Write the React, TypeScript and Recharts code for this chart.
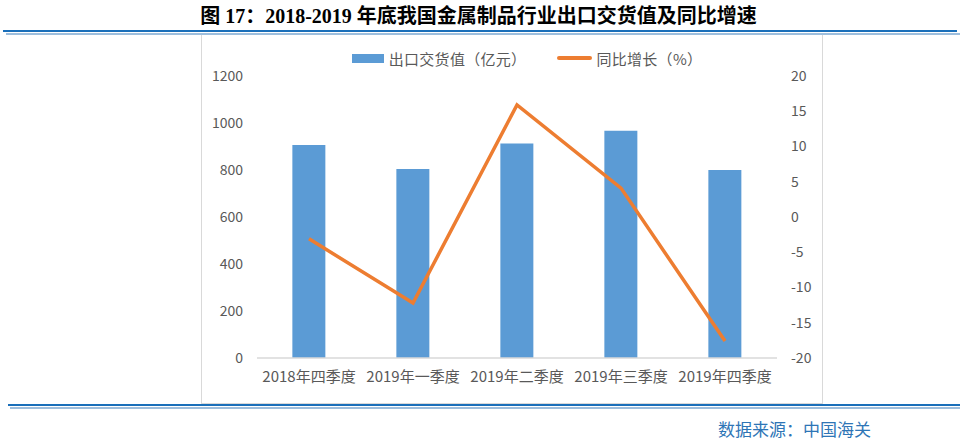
import { ComposedChart, Bar, Line, XAxis, YAxis } from 'recharts';

// 季度
const quarters = ['2018年四季度', '2019年一季度', '2019年二季度', '2019年三季度', '2019年四季度'];
// 出口交货值（亿元）
const exportValue = [906, 804, 913, 967, 800];
// 同比增长（%）
const yoyGrowth = [-3.1, -12.2, 15.9, 4.1, -17.6];

const leftTicks = [0, 200, 400, 600, 800, 1000, 1200];
const rightTicks = [-20, -15, -10, -5, 0, 5, 10, 15, 20];

const barName = '出口交货值（亿元）';
const lineName = '同比增长（%）';

const BLUE = '#5B9BD5';
const ORANGE = '#ED7D31';
const TEXT = '#595959';
const FONT = '"Noto Sans CJK SC", "Noto Sans", sans-serif';

const chartData = quarters.map((q, i) => ({
  quarter: q,
  value: exportValue[i],
  growth: yoyGrowth[i],
}));

function ChartLegend() {
  return (
    <div
      style={{
        display: 'flex',
        justifyContent: 'center',
        alignItems: 'center',
        fontFamily: FONT,
        fontSize: 15,
        color: TEXT,
        height: 20,
        paddingLeft: 30,
        letterSpacing: 0.3,
      }}
    >
      <span style={{ display: 'inline-block', width: 32, height: 9, background: BLUE, marginRight: 5 }} />
      <span style={{ marginRight: 31 }}>{barName}</span>
      <span style={{ display: 'inline-block', width: 35, height: 4, borderRadius: 2, background: ORANGE, marginRight: 4 }} />
      <span>{lineName}</span>
    </div>
  );
}

export default function App() {
  return (
    <div style={{ position: 'absolute', left: 0, top: 0, width: 963, height: 441, background: '#fff', overflow: 'hidden' }}>
      {/* title */}
      <div
        style={{
          position: 'absolute',
          left: -3,
          top: 0,
          width: 963,
          textAlign: 'center',
          fontFamily: '"Liberation Serif", "Noto Sans CJK SC", serif',
          fontWeight: 'bold',
          fontSize: 20,
          color: '#000',
          whiteSpace: 'nowrap',
        }}
      >
        图 17：2018-2019 年底我国金属制品行业出口交货值及同比增速
      </div>
      {/* top rules */}
      <div style={{ position: 'absolute', left: 3, top: 30, width: 954, height: 2, background: '#1A6FBA' }} />
      <div style={{ position: 'absolute', left: 6, top: 33, width: 954, height: 2, background: '#9DBEDD' }} />

      {/* chart frame */}
      <div
        style={{
          position: 'absolute',
          left: 201,
          top: 35,
          width: 620,
          height: 368,
          border: '1px solid #D9D9D9',
          borderTop: 'none',
        }}
      />
      <div style={{ position: 'absolute', left: 202, top: 33 }}>
        <div style={{ position: 'absolute', left: 0, top: 15, width: 620 }}>
          <ChartLegend />
        </div>
        <ComposedChart
          width={620}
          height={370}
          data={chartData}
          margin={{ top: 43, right: 0, bottom: 0, left: 0 }}
          barCategoryGap="34%"
        >
          <XAxis
            dataKey="quarter"
            height={45}
            axisLine={{ stroke: '#D9D9D9', strokeWidth: 1.5 }}
            tickLine={false}
            tickSize={0}
            tickMargin={13}
            interval={0}
            tick={{ fill: TEXT, fontSize: 15, fontFamily: FONT }}
          />
          <YAxis
            yAxisId="left"
            width={55}
            domain={[0, 1200]}
            ticks={leftTicks}
            axisLine={false}
            tickLine={false}
            tickSize={0}
            tickMargin={14}
            tick={{ fill: TEXT, fontSize: 14, fontFamily: FONT }}
          />
          <YAxis
            yAxisId="right"
            orientation="right"
            width={45}
            domain={[-20, 20]}
            ticks={rightTicks}
            axisLine={false}
            tickLine={false}
            tickSize={0}
            tickMargin={14}
            tick={{ fill: TEXT, fontSize: 14, fontFamily: FONT }}
          />
          <Bar yAxisId="left" dataKey="value" name={barName} fill={BLUE} isAnimationActive={false} />
          <Line
            yAxisId="right"
            dataKey="growth"
            name={lineName}
            stroke={ORANGE}
            strokeWidth={3.5}
            dot={false}
            type="linear"
            isAnimationActive={false}
          />
        </ComposedChart>
      </div>

      {/* bottom rules */}
      <div style={{ position: 'absolute', left: 8, top: 404, width: 952, height: 2, background: '#1A6FBA' }} />
      <div style={{ position: 'absolute', left: 10, top: 407, width: 950, height: 2, background: '#9DBEDD' }} />

      {/* source */}
      <div
        style={{
          position: 'absolute',
          left: 718,
          top: 416,
          fontFamily: FONT,
          fontSize: 17,
          color: '#2E75B6',
          whiteSpace: 'nowrap',
        }}
      >
        数据来源：中国海关
      </div>
    </div>
  );
}
